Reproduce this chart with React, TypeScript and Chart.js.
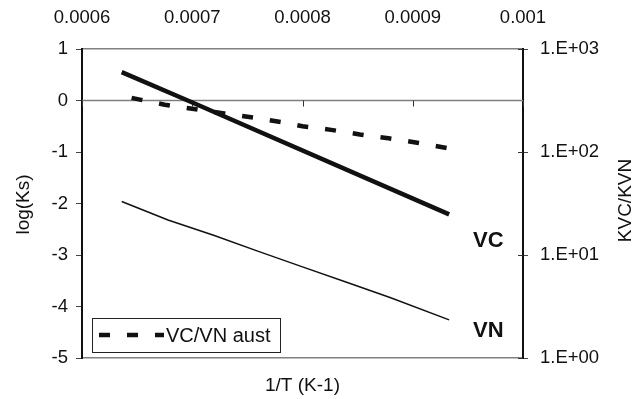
import React, { useEffect, useRef } from 'react';
import { Chart, registerables } from 'chart.js';

Chart.register(...registerables);

const FONT = '"Liberation Sans", Arial, Helvetica, sans-serif';

const xTickValues = [0.0006, 0.0007, 0.0008, 0.0009, 0.001];
const yTickValues = [-5, -4, -3, -2, -1, 0, 1];
const y2TickValues = [1, 10, 100, 1000];

const xTitle = '1/T (K-1)';
const yTitle = 'log(Ks)';
const y2Title = 'KVC/KVN';

const vcX = [0.000636, 0.000698, 0.000933];
const vcY = [0.55, -0.02, -2.21];

const vnX = [0.000636, 0.000678, 0.00072, 0.00076, 0.0008, 0.00084, 0.00088, 0.000933];
const vnY = [-1.96, -2.32, -2.62, -2.93, -3.23, -3.53, -3.83, -4.26];

const ratioX = [0.000645, 0.000675, 0.0007, 0.000729, 0.000758, 0.000783, 0.0008, 0.000826, 0.000852, 0.000878, 0.000904, 0.000934];
const ratioY = [335, 288, 263, 237, 214, 193, 178, 164, 148, 136, 123, 108];

const ratioLabel = 'VC/VN aust';
const vcLabel = 'VC';
const vnLabel = 'VN';

const toPts = (xs: number[], ys: number[]) => xs.map((x, i) => ({ x, y: ys[i] }));

const decor = {
  id: 'decor',
  beforeDatasetsDraw(chart: any) {
    const { ctx, chartArea, scales } = chart;
    const y0 = scales.y.getPixelForValue(0);
    ctx.save();
    ctx.strokeStyle = '#808080';
    ctx.lineWidth = 1.5;
    ctx.beginPath();
    ctx.moveTo(chartArea.left, y0);
    ctx.lineTo(chartArea.right, y0);
    ctx.stroke();
    ctx.strokeStyle = '#333';
    ctx.lineWidth = 1;
    ctx.beginPath();
    for (const v of xTickValues) {
      const px = Math.round(scales.x.getPixelForValue(v)) + 0.5;
      ctx.moveTo(px, y0);
      ctx.lineTo(px, y0 + 6);
    }
    // inner halves of the right-axis tick marks
    for (const v of y2TickValues) {
      const py = Math.round(scales.y2.getPixelForValue(v)) + 0.5;
      ctx.moveTo(chartArea.right - 5, py);
      ctx.lineTo(chartArea.right, py);
    }
    ctx.stroke();
    ctx.restore();
  },
  afterDraw(chart: any) {
    const { ctx, chartArea } = chart;
    ctx.save();
    ctx.fillStyle = '#111';
    ctx.font = `19px ${FONT}`;
    ctx.textAlign = 'center';
    ctx.textBaseline = 'middle';
    // bottom title
    ctx.fillText(xTitle, (chartArea.left + chartArea.right) / 2, 386);
    // left title
    ctx.save();
    ctx.translate(24, (chartArea.top + chartArea.bottom) / 2 + 1);
    ctx.rotate(-Math.PI / 2);
    ctx.fillText(yTitle, 0, 0);
    ctx.restore();
    // right title
    ctx.save();
    ctx.translate(626, (chartArea.top + chartArea.bottom) / 2 - 3);
    ctx.rotate(-Math.PI / 2);
    ctx.fillText(y2Title, 0, 0);
    ctx.restore();
    // series labels
    ctx.font = `bold 22px ${FONT}`;
    ctx.textAlign = 'left';
    ctx.fillText(vcLabel, 473, 241);
    ctx.fillText(vnLabel, 473, 331);
    // legend box
    ctx.strokeStyle = '#222';
    ctx.lineWidth = 1;
    ctx.fillStyle = '#fff';
    ctx.fillRect(92.5, 318.5, 188, 34);
    ctx.strokeRect(92.5, 318.5, 188, 34);
    ctx.strokeStyle = '#111';
    ctx.lineWidth = 4.5;
    ctx.setLineDash([11, 17]);
    ctx.beginPath();
    ctx.moveTo(99, 335);
    ctx.lineTo(164, 335);
    ctx.stroke();
    ctx.setLineDash([]);
    ctx.fillStyle = '#111';
    ctx.font = `20px ${FONT}`;
    ctx.fillText(ratioLabel, 166, 336);
    ctx.restore();
  },
};

export default function App() {
  const ref = useRef<HTMLCanvasElement | null>(null);
  useEffect(() => {
    if (!ref.current) return;
    const tickFont = { family: FONT, size: 18.5 };
    const chart = new Chart(ref.current, {
      type: 'line',
      data: {
        datasets: [
          {
            label: vcLabel,
            data: toPts(vcX, vcY),
            xAxisID: 'x',
            yAxisID: 'y',
            borderColor: '#111',
            borderWidth: 4.5,
            pointRadius: 0,
            tension: 0,
          },
          {
            label: vnLabel,
            data: toPts(vnX, vnY),
            xAxisID: 'x',
            yAxisID: 'y',
            borderColor: '#111',
            borderWidth: 1.5,
            pointRadius: 0,
            tension: 0,
          },
          {
            label: ratioLabel,
            data: toPts(ratioX, ratioY),
            xAxisID: 'x',
            yAxisID: 'y2',
            borderColor: '#111',
            borderWidth: 4.5,
            borderDash: [11, 17],
            pointRadius: 0,
            tension: 0,
          },
        ],
      },
      options: {
        animation: false,
        responsive: true,
        maintainAspectRatio: false,
        layout: { padding: 0 },
        plugins: { legend: { display: false }, tooltip: { enabled: false } },
        scales: {
          x: {
            type: 'linear',
            position: 'top',
            min: 0.0006,
            max: 0.001,
            afterBuildTicks: (s: any) => { s.ticks = xTickValues.map((v) => ({ value: v })); },
            afterFit: (s: any) => { s.height = 49; },
            ticks: {
              font: tickFont,
              color: '#111',
              padding: 20,
              maxRotation: 0,
              autoSkip: false,
              callback: (v: any) => String(Number(Number(v).toPrecision(6))),
            },
            grid: { display: false, drawTicks: false },
            border: { display: true, color: '#808080', width: 1.5 },
          },
          x2: {
            type: 'linear',
            position: 'bottom',
            min: 0.0006,
            max: 0.001,
            afterFit: (s: any) => { s.height = 41; },
            ticks: { display: false },
            grid: { display: false, drawTicks: false },
            border: { display: true, color: '#808080', width: 1.5 },
          },
          y: {
            type: 'linear',
            position: 'left',
            min: -5,
            max: 1,
            afterBuildTicks: (s: any) => { s.ticks = yTickValues.map((v) => ({ value: v })); },
            afterFit: (s: any) => { s.width = 82; },
            ticks: { font: tickFont, color: '#111', padding: 8 },
            grid: { display: true, drawOnChartArea: false, drawTicks: true, tickLength: 6, color: '#444', lineWidth: 1 },
            border: { display: true, color: '#111', width: 2 },
          },
          y2: {
            type: 'logarithmic',
            position: 'right',
            min: 1,
            max: 1000,
            afterBuildTicks: (s: any) => { s.ticks = y2TickValues.map((v) => ({ value: v })); },
            afterFit: (s: any) => { s.width = 121; },
            ticks: {
              font: tickFont,
              color: '#111',
              padding: 12,
              callback: (v: any) => '1.E+' + String(Math.round(Math.log10(Number(v)))).padStart(2, '0'),
            },
            grid: { display: true, drawOnChartArea: false, drawTicks: true, tickLength: 5, color: '#444', lineWidth: 1 },
            border: { display: true, color: '#111', width: 2 },
          },
        },
      },
      plugins: [decor],
    } as any);
    return () => chart.destroy();
  }, []);
  return (
    <div style={{ position: 'fixed', left: 0, top: 0, width: 644, height: 399, background: '#fff' }}>
      <canvas ref={ref} />
    </div>
  );
}
